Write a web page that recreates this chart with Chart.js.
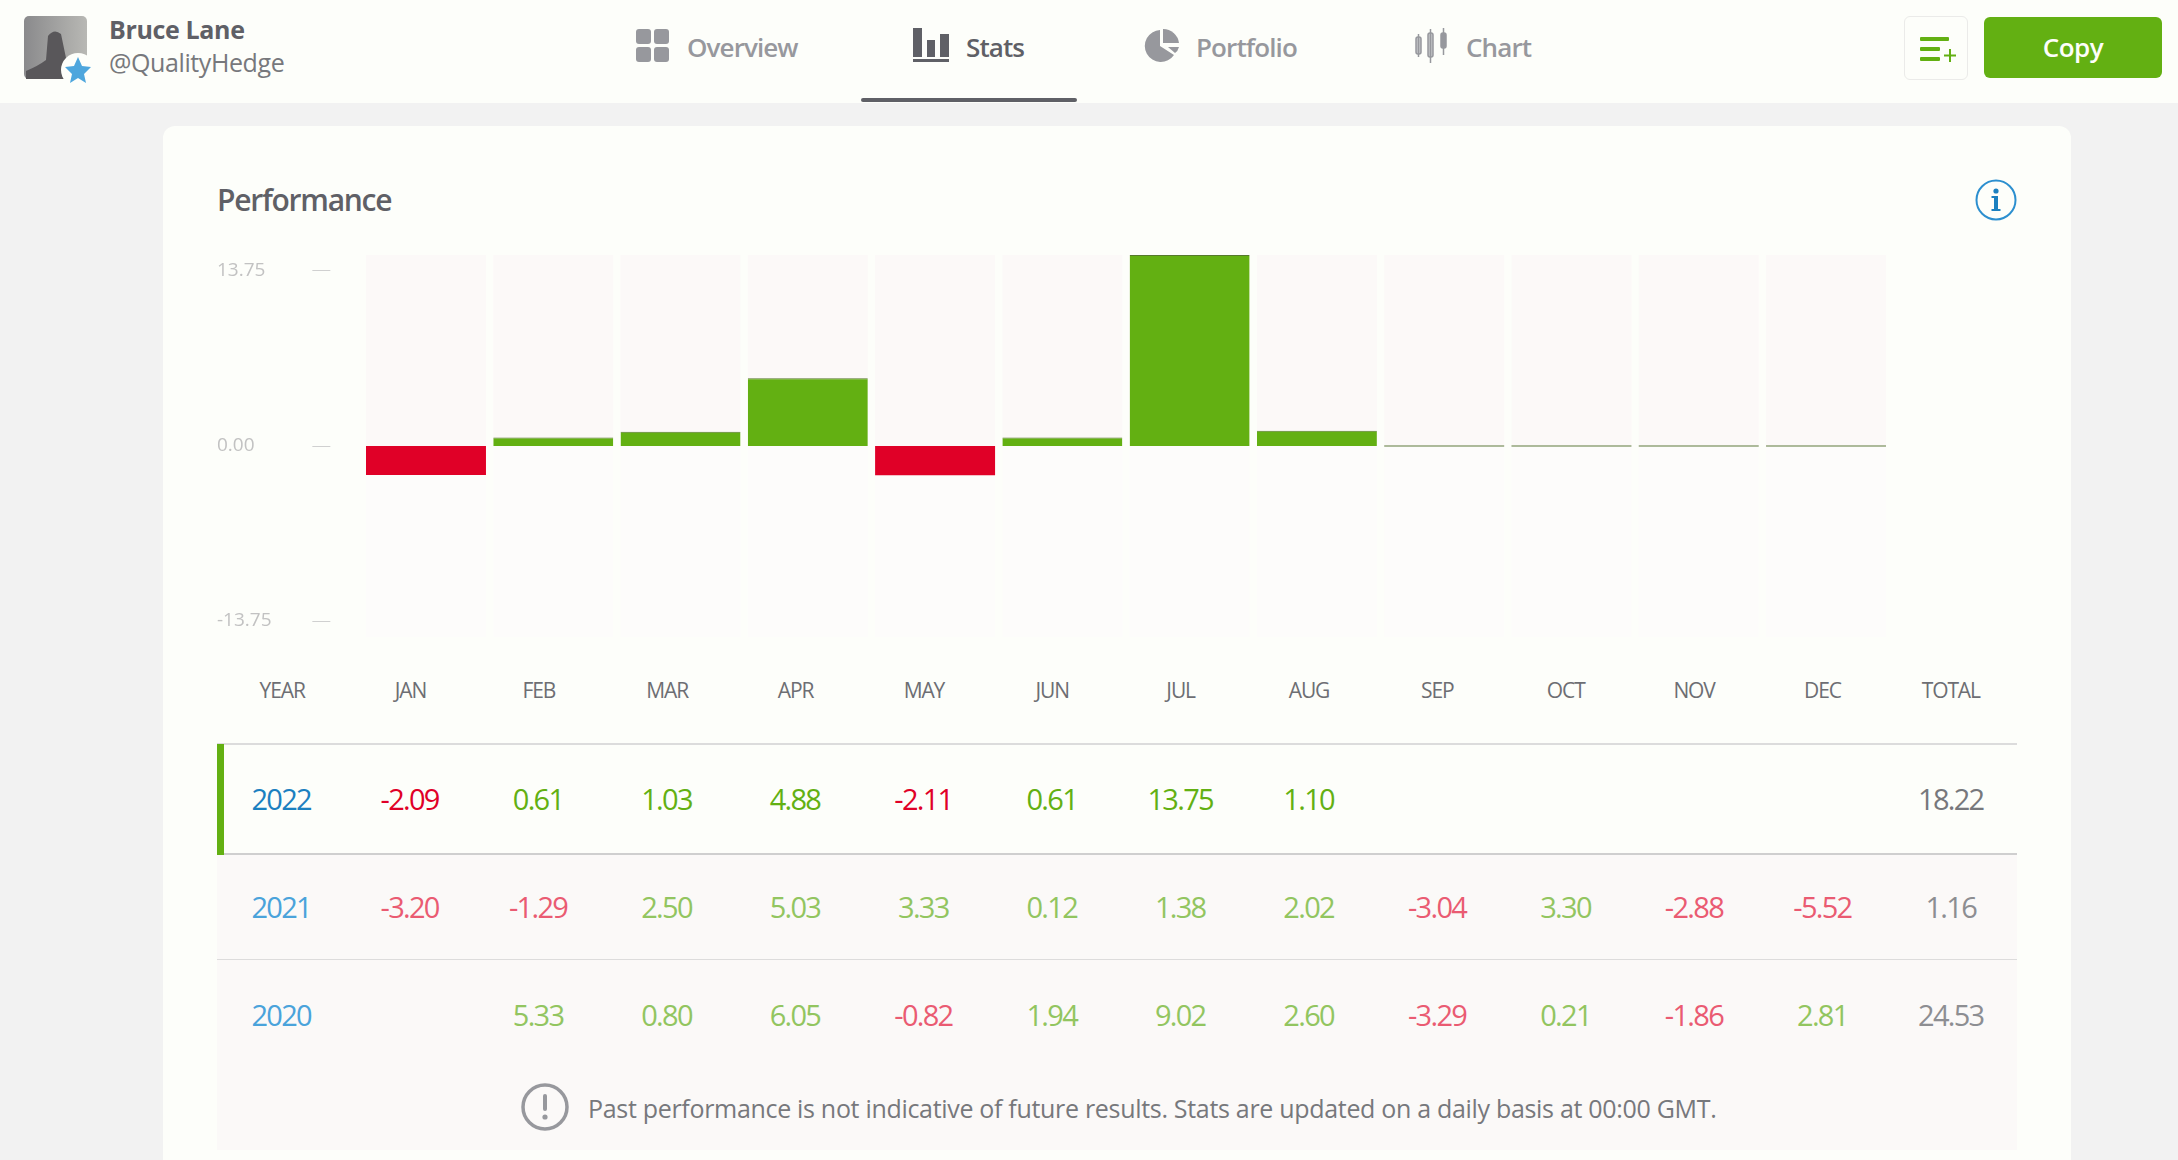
<!DOCTYPE html>
<html>
<head>
<meta charset="utf-8">
<title>Performance</title>
<script src="https://cdn.jsdelivr.net/npm/chart.js@4"></script>
<style>
  html, body { margin: 0; padding: 0; }
  body { width: 2178px; height: 1160px; overflow: hidden; position: relative; background: #f2f2f2; font-family: "Open Sans", sans-serif; color: #5f6066; }
  .abs { position: absolute; white-space: nowrap; }
  .topbar { position: absolute; left: 0; top: 0; width: 2178px; height: 103px; background: #fdfefa; }
  .tab { font-size: 26px; font-weight: 600; color: #97989d; letter-spacing: -0.9px; line-height: 34px; top: 30px; }
  .tab.on { color: #5f6066; }
  .card { position: absolute; left: 163px; top: 126px; width: 1908px; height: 1060px; background: #fdfefa; border-radius: 12px; }
  #perfChart { position: absolute; left: 200px; top: 240px; }
  .row { position: absolute; left: 217px; width: 1800px; box-sizing: border-box; padding: 0 2px 0 0; display: grid; grid-template-columns: repeat(14, 1fr); text-align: center; letter-spacing: -1.7px; font-size: 29px; }
  .head { top: 674px; padding-left: 1px; font-size: 21px; line-height: 32px; letter-spacing: -1.1px; color: #6d6e73; }
  .r2022 { top: 743px; height: 112px; line-height: 108px; background: #fdfefa; border-top: 2px solid #dcdcdc; border-bottom: 2px solid #cfcfcf; }
  .r2021 { top: 855px; height: 105px; line-height: 104px; background: #fbf9f8; border-bottom: 1px solid #dddcdc; }
  .r2020 { top: 960px; height: 110px; line-height: 110px; background: #fbf9f8; }
  .foot { position: absolute; left: 217px; top: 1070px; width: 1800px; height: 80px; background: #fbf9f8; }
  .pos { color: #63b012; } .neg { color: #e00027; } .yr { color: #1b80c0; } .tot { color: #77787c; }
  .fade .pos { color: #92c560; } .fade .neg { color: #ea5b72; } .fade .yr { color: #4aa3db; } .fade .tot { color: #8d8e92; }
</style>
</head>
<body>
<div class="topbar"></div>

<!-- avatar -->
<svg class="abs" style="left:24px;top:16px" width="82" height="78" viewBox="0 0 82 78">
  <defs><linearGradient id="av" x1="0" x2="1"><stop offset="0" stop-color="#8a8a8c"/><stop offset="1" stop-color="#b8b8b4"/></linearGradient></defs>
  <rect width="63" height="63" rx="5" fill="url(#av)"/>
  <path d="M2 63 L2 55 Q14 50 22 44 L24 20 Q30 12 37 18 L42 42 L44 63 Z" fill="#59575a"/>
  <circle cx="54" cy="54" r="17" fill="#fdfefa"/>
  <path d="M54 41 L58 50 L67 51 L60 58 L62 67 L54 62 L46 67 L48 58 L41 51 L50 50 Z" fill="#4ea6dd"/>
</svg>
<div class="abs" style="left:109px;top:12px;font-size:25px;font-weight:700;line-height:34px;letter-spacing:-0.35px;color:#5f6066">Bruce Lane</div>
<div class="abs" style="left:109px;top:45px;font-size:25px;line-height:34px;letter-spacing:-0.4px;color:#77787c">@QualityHedge</div>

<!-- tabs -->
<svg class="abs" style="left:636px;top:29px" width="33" height="34" viewBox="0 0 33 34" fill="#97989d">
  <rect width="15" height="15" rx="3"/><rect x="18" width="15" height="15" rx="3"/><rect y="18" width="15" height="15" rx="3"/><rect x="18" y="18" width="15" height="15" rx="3"/>
</svg>
<div class="abs tab" style="left:687px">Overview</div>
<svg class="abs" style="left:913px;top:28px" width="36" height="35" viewBox="0 0 36 35" fill="#5f6066">
  <rect x="0" y="0" width="9" height="29"/><rect x="14" y="12" width="8" height="17"/><rect x="27" y="6" width="9" height="23"/><rect y="31" width="36" height="3"/>
</svg>
<div class="abs tab on" style="left:966px">Stats</div>
<div class="abs" style="left:861px;top:98px;width:216px;height:4px;background:#5f6066;border-radius:2px"></div>
<svg class="abs" style="left:1144px;top:29px" width="36" height="33" viewBox="0 0 36 33" fill="#97989d">
  <path d="M16 1 A16 16 0 1 0 30 26 L16 17 Z"/><path d="M19 0 A16 16 0 0 1 35 14 L19 14 Z"/><path d="M24 18 L35 18 Q34 22 31 24 Z"/>
</svg>
<div class="abs tab" style="left:1196px">Portfolio</div>
<svg class="abs" style="left:1415px;top:28px" width="34" height="35" viewBox="0 0 34 35" fill="none" stroke="#97989d" stroke-width="1.5">
  <rect x="1" y="9" width="5" height="17" rx="2" fill="#c4c5c8"/><path d="M3.5 6 V29"/>
  <rect x="13" y="5" width="5" height="24" rx="2" fill="#c4c5c8"/><path d="M15.5 1 V35"/>
  <rect x="26" y="5" width="5" height="15" rx="2" fill="#97989d"/><path d="M28.5 0 V27"/>
</svg>
<div class="abs tab" style="left:1466px">Chart</div>

<!-- buttons -->
<div class="abs" style="left:1904px;top:16px;width:62px;height:62px;border:1px solid #ebebe9;border-radius:6px"></div>
<svg class="abs" style="left:1920px;top:36px" width="36" height="26" viewBox="0 0 36 26" fill="#63b012">
  <rect x="0" y="1" width="29" height="4" rx="1"/><rect x="0" y="11" width="20" height="4" rx="1"/><rect x="0" y="21" width="20" height="4" rx="1"/>
  <rect x="29" y="13" width="2" height="13"/><rect x="24" y="18.5" width="12" height="2"/>
</svg>
<div class="abs" style="left:1984px;top:17px;width:178px;height:61px;background:#63b012;border-radius:6px;color:#fdfefa;font-size:26px;font-weight:600;text-align:center;line-height:61px;letter-spacing:-0.5px">Copy</div>

<div class="card"></div>
<div class="abs" style="left:217px;top:180px;font-size:30px;font-weight:600;line-height:40px;letter-spacing:-1.25px;color:#5f6066">Performance</div>
<svg class="abs" style="left:1975px;top:179px" width="42" height="42" viewBox="0 0 42 42">
  <circle cx="21" cy="21" r="19.5" fill="none" stroke="#2c8fcf" stroke-width="2"/>
  <rect x="19" y="17" width="4" height="14" fill="#1b80c0"/><rect x="16.5" y="30" width="9" height="2" fill="#1b80c0"/><rect x="16.5" y="17" width="4" height="2" fill="#1b80c0"/><circle cx="21" cy="12" r="2.6" fill="#1b80c0"/>
</svg>

<canvas id="perfChart" width="1700" height="412"></canvas>

<div id="perfTable"></div>
<div class="foot"></div>
<div class="abs" style="left:217px;top:744px;width:7px;height:111px;background:#63b012"></div>
<svg class="abs" style="left:521px;top:1083px" width="48" height="48" viewBox="0 0 48 48">
  <circle cx="24" cy="24" r="22" fill="none" stroke="#97989d" stroke-width="3.5"/>
  <rect x="22" y="11" width="4" height="17" rx="2" fill="#97989d"/><circle cx="24" cy="34" r="2.6" fill="#97989d"/>
</svg>
<div class="abs" style="left:588px;top:1090px;font-size:25px;line-height:36px;letter-spacing:-0.31px;color:#77787c">Past performance is not indicative of future results. Stats are updated on a daily basis at 00:00 GMT.</div>

<script>
const months = ['JAN', 'FEB', 'MAR', 'APR', 'MAY', 'JUN', 'JUL', 'AUG', 'SEP', 'OCT', 'NOV', 'DEC'];
const values2022 = [-2.09, 0.61, 1.03, 4.88, -2.11, 0.61, 13.75, 1.10, null, null, null, null];
const values2021 = [-3.20, -1.29, 2.50, 5.03, 3.33, 0.12, 1.38, 2.02, -3.04, 3.30, -2.88, -5.52];
const values2020 = [null, 5.33, 0.80, 6.05, -0.82, 1.94, 9.02, 2.60, -3.29, 0.21, -1.86, 2.81];
const total2022 = 18.22;
const total2021 = 1.16;
const total2020 = 24.53;
const tickLabels = [13.75, 0, -13.75];
const bandUp = [13.75, 13.75, 13.75, 13.75, 13.75, 13.75, 13.75, 13.75, 13.75, 13.75, 13.75, 13.75];
const bandDown = [-13.75, -13.75, -13.75, -13.75, -13.75, -13.75, -13.75, -13.75, -13.75, -13.75, -13.75, -13.75];

/* table under the chart */
function cell(v) {
    if (v === null) return '<div></div>';
    return `<div class="${v < 0 ? 'neg' : 'pos'}">${v.toFixed(2)}</div>`;
}
function rowHtml(year, vals, total, cls) {
    return `<div class="row ${cls}"><div class="yr">${year}</div>${vals.map(cell).join('')}<div class="tot">${total.toFixed(2)}</div></div>`;
}
document.getElementById('perfTable').innerHTML =
    `<div class="row head"><div>YEAR</div>${months.map(m => `<div>${m}</div>`).join('')}<div>TOTAL</div></div>` +
    rowHtml(2022, values2022, total2022, 'r2022') +
    rowHtml(2021, values2021, total2021, 'r2021 fade') +
    rowHtml(2020, values2020, total2020, 'r2020 fade');

/* bar chart */
const barOpts = { barPercentage: 0.9426, categoryPercentage: 1, yAxisID: 'y' };
new Chart(document.getElementById('perfChart'), {
    type: 'bar',
    data: {
        labels: months,
        datasets: [
            { label: '2022', data: values2022.map(v => v ?? 0), order: 1, minBarLength: 1,
              backgroundColor: c => c.raw > 0 ? '#63b012' : c.raw < 0 ? '#e00027' : '#5f7a3c',
              borderColor: '#56792c',
              borderSkipped: false,
              borderWidth: c => c.raw > 0 ? { top: 1, right: 0, bottom: 0, left: 0 } : 0,
              ...barOpts },
            { label: 'up', data: bandUp, order: 2, backgroundColor: '#fcf9f8', ...barOpts },
            { label: 'down', data: bandDown, order: 2, backgroundColor: '#fdfcfb', ...barOpts }
        ]
    },
    options: {
        responsive: false,
        animation: false,
        devicePixelRatio: 1,
        layout: { padding: { left: 17, right: 10.35, top: 15, bottom: 15 } },
        datasets: { bar: { grouped: false } },
        plugins: { legend: { display: false }, tooltip: { enabled: false } },
        scales: {
            x: { display: false, grid: { display: false } },
            y: { display: false, min: -13.75, max: 13.75 },
            yLabels: {
                position: 'left', min: -15, max: 15,
                afterBuildTicks: axis => { axis.ticks = tickLabels.map(v => ({ value: v })); },
                afterFit: axis => { axis.width = 145.35; },
                border: { display: false },
                grid: { drawOnChartArea: false, tickLength: 50, tickColor: '#d0d0d0', tickBorderDash: [18, 60], lineWidth: 1 },
                ticks: { crossAlign: 'far', padding: 0, color: '#c2c2c2', autoSkip: false, font: { family: 'Open Sans', size: 19 }, callback: v => v.toFixed(2) }
            }
        }
    }
});
</script>
</body>
</html>
